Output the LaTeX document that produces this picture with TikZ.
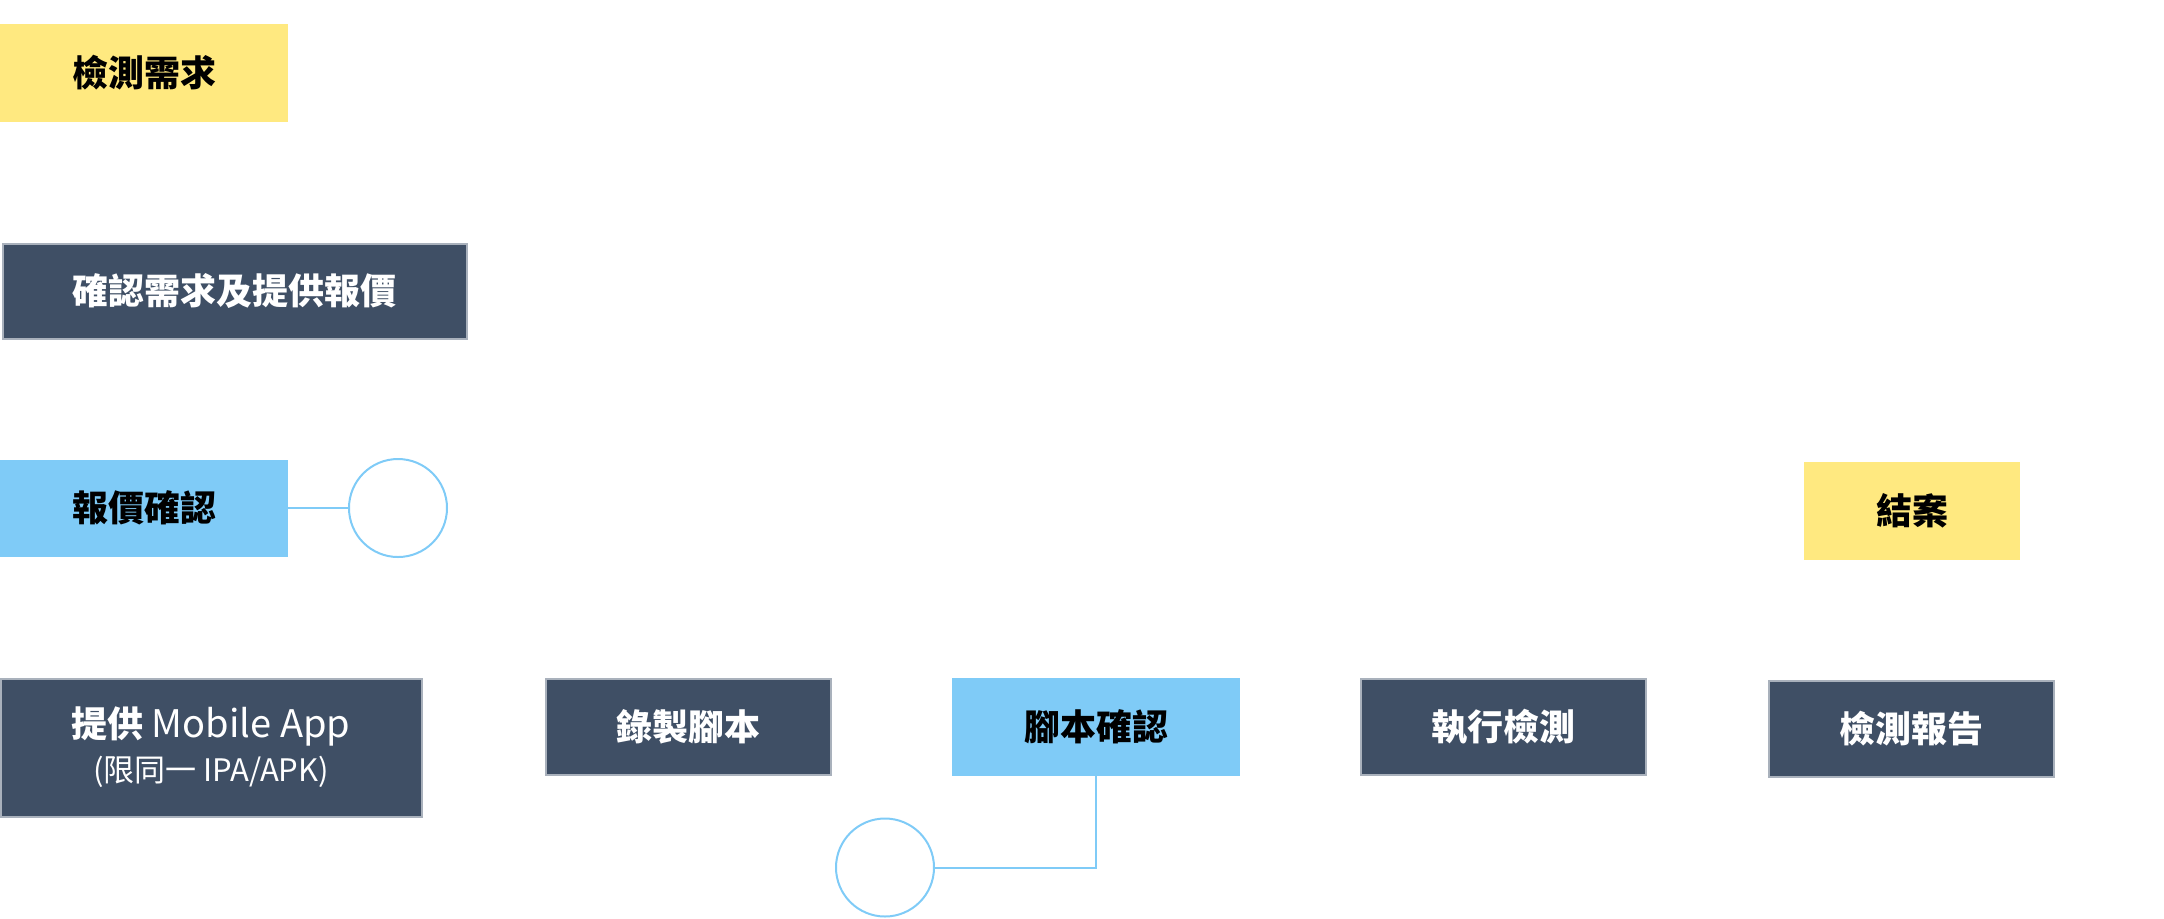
\documentclass[tikz,border=0pt]{standalone}
\usepackage{fontspec}
\newfontfamily\cjk{Noto Sans CJK TC}
\definecolor{noteyellow}{HTML}{FFE980}
\definecolor{checkblue}{HTML}{7FCBF7}
\definecolor{slate}{HTML}{3F4F65}
\definecolor{slateedge}{HTML}{A9B1BC}
\tikzset{
  box/.style={rectangle,inner sep=0pt,align=center,text=black,
    font=\cjk\bfseries\fontsize{18}{22}\selectfont},
  yellowbox/.style={box,fill=noteyellow},
  bluebox/.style={box,fill=checkblue},
  darkbox/.style={box,fill=slate,draw=slateedge,line width=1pt,text=white},
  ring/.style={circle,draw=checkblue,line width=1pt,minimum size=49pt,inner sep=0pt},
  link/.style={draw=checkblue,line width=1pt}
}
\begin{document}
\begin{tikzpicture}[x=0.5pt,y=-0.5pt]
        \useasboundingbox (0,0) rectangle (2164,918);
        \node[yellowbox,minimum width=144pt,minimum height=49pt] (need) at (144,72.5) {檢測需求};
        \node[darkbox,minimum width=232pt,minimum height=47.5pt] (quote) at (234.5,291) {確認需求及提供報價};
        \node[bluebox,minimum width=144pt,minimum height=48.5pt] (quoteok) at (144,508) {報價確認};
        \node[ring] (ringa) at (398,508) {};
        \node[darkbox,minimum width=210.5pt,minimum height=69pt] (app) at (211,747.5)
          {提供 {\mdseries\fontsize{19}{22}\selectfont Mobile App}\\[0pt]{\mdseries\fontsize{15.5}{18}\selectfont (限同一 IPA/APK)}};
        \node[darkbox,minimum width=142.5pt,minimum height=48pt] (record) at (688,726.5) {錄製腳本};
        \node[bluebox,minimum width=144pt,minimum height=49pt] (scriptok) at (1096,727) {腳本確認};
        \node[ring] (ringb) at (885,867.5) {};
        \node[darkbox,minimum width=142.5pt,minimum height=48pt] (run) at (1503.5,726.5) {執行檢測};
        \node[darkbox,minimum width=142.5pt,minimum height=48pt] (report) at (1911.5,728.5) {檢測報告};
        \node[yellowbox,minimum width=108pt,minimum height=49pt] (close) at (1912,511) {結案};
        \draw[link] (quoteok.east) -- (ringa.west);
        \draw[link] (scriptok.south) |- (ringb.east);
    \end{tikzpicture}
\end{document}
